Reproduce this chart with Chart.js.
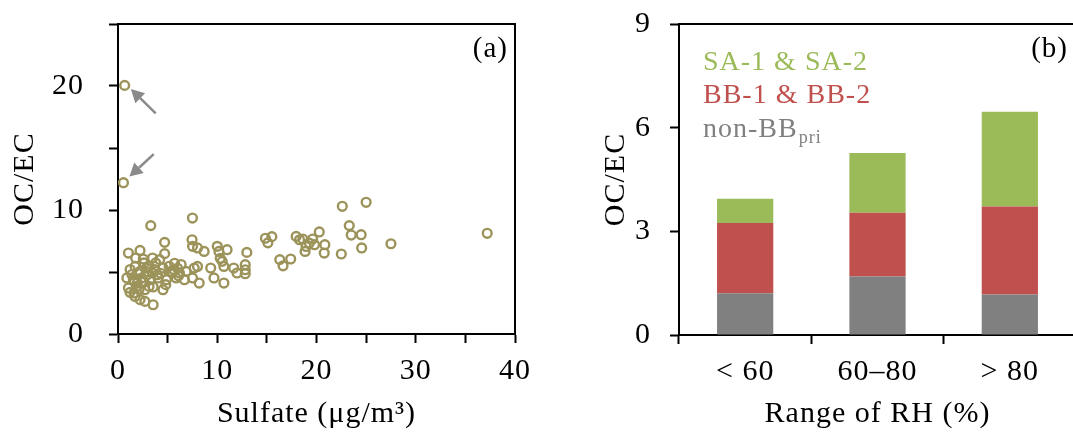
<!DOCTYPE html>
<html>
<head>
<meta charset="utf-8">
<script src="https://cdn.jsdelivr.net/npm/chart.js@4.4.1/dist/chart.umd.min.js"></script>
<style>
    html, body { margin: 0; padding: 0; background: #fff; overflow: hidden; width: 1073px; height: 432px; }
    canvas { position: absolute; top: 0; }
    #chart-a { left: 0; }
    #chart-b { left: 560px; }
</style>
</head>
<body>
<canvas id="chart-a" width="540" height="432"></canvas>
<canvas id="chart-b" width="540" height="432"></canvas>
<script>
// ── Data: panel (a) OC/EC vs sulfate ─────────────────────
const SULFATE = [
    0.67, 0.55,
    1.05, 2.22, 4.70, 4.70, 2.55, 3.48, 4.20, 5.70, 6.36, 1.22, 1.72, 2.22, 2.88, 3.71, 4.53, 5.37,
    6.19, 6.86, 0.89, 1.55, 2.39, 3.21, 4.04, 4.87, 5.86, 6.69, 1.05, 1.89, 2.71, 3.54, 4.53, 1.72,
    2.22, 2.71, 3.54, 2.63, 3.13, 3.80, 5.15, 1.78, 4.81, 5.49, 6.10, 1.62, 1.95, 2.60, 2.90, 3.47,
    3.97, 1.21, 1.62, 2.12, 3.13, 3.30, 2.00, 3.00, 4.30, 5.60, 6.00, 1.40,
    7.50, 7.46, 7.51, 8.01, 8.68, 10.00, 10.17, 10.99, 10.30, 12.98, 7.68, 8.01, 7.51, 8.18, 9.34,
    9.67, 10.50, 10.67, 10.67, 11.66, 11.99, 12.82, 12.82, 12.82,
    14.85, 15.10, 15.50, 16.30, 16.63, 17.40, 17.95, 18.29, 18.62, 18.95, 19.28, 18.85, 19.61, 19.80,
    20.28, 20.84, 20.78, 22.50, 22.60, 23.30, 23.50, 24.50, 24.55, 25.00, 27.50, 37.20,
];
const OC_EC_A = [
    20.05, 12.2,
    6.53, 6.74, 7.39, 6.48, 6.05, 6.13, 6.00, 5.70, 5.60, 5.20, 5.45, 5.05, 5.32, 5.20, 5.32, 5.05,
    4.92, 5.05, 4.52, 4.38, 4.52, 4.38, 4.52, 4.38, 4.52, 4.38, 3.71, 3.84, 3.57, 3.79, 3.57, 3.03,
    2.77, 2.63, 2.36, 5.73, 5.46, 5.73, 5.46, 6.13, 3.98, 4.92, 4.70, 4.25, 4.11, 4.20, 4.75, 4.92,
    4.78, 3.36, 3.31, 3.58, 3.84, 8.74, 4.90, 5.00, 4.90, 5.20, 5.30, 4.80,
    9.35, 7.60, 7.07, 6.94, 6.66, 7.07, 6.66, 6.80, 6.10, 6.58, 5.32, 5.45, 4.52, 4.11, 5.32,
    4.52, 5.86, 5.45, 4.11, 5.32, 4.92, 5.59, 5.18, 4.86,
    7.72, 7.35, 7.85, 6.00, 5.50, 6.05, 7.87, 7.60, 7.66, 7.06, 7.34, 6.66, 7.66, 7.20,
    8.23, 7.20, 6.53, 6.45, 10.30, 8.74, 7.98, 8.01, 6.94, 10.62, 7.28, 8.12,
];
const X_TICKS_A = [0, 10, 20, 30, 40];
const Y_TICKS_A = [0, 10, 20];
// arrows pointing at the two outliers, in data units [x, y]
const ARROW_TAIL = [[3.8, 17.8], [3.6, 14.5]];
const ARROW_TIP = [[1.3, 19.75], [1.15, 12.7]];

// ── Data: panel (b) stacked OC/EC by RH range ────────────
const RH_RANGES = ['< 60', '60–80', '> 80'];
const NON_BB_PRI = [1.21, 1.69, 1.17];
const BB_12 = [2.03, 1.85, 2.55];
const SA_12 = [0.70, 1.73, 2.74];

const FONT = "'Liberation Serif', 'Times New Roman', serif";
const OLIVE = '#9c935a';
const GRAY = '#808080';
const RED = '#c0504d';
const GREEN = '#9bbb59';

Chart.defaults.font.family = FONT;
Chart.defaults.color = '#000';
Chart.defaults.animation = false;

// ── Plugins ──────────────────────────────────────────────

// the original type is a little wider than Liberation Serif
const wideText = {
    id: 'wideText',
    beforeDraw(chart) { chart.ctx.letterSpacing = '1px'; }
};

// top + right frame lines
const framePlugin = {
    id: 'frame',
    afterDraw(chart) {
        const { ctx, chartArea: a } = chart;
        ctx.save();
        ctx.strokeStyle = '#000';
        ctx.lineWidth = 2;
        ctx.beginPath();
        ctx.moveTo(a.left - 1, a.top);
        ctx.lineTo(a.right, a.top);
        ctx.lineTo(a.right, a.bottom);
        ctx.stroke();
        ctx.restore();
    }
};

// "(a)" / "(b)" in the top-right corner
const panelLabel = {
    id: 'panelLabel',
    afterDraw(chart, args, opts) {
        const { ctx, chartArea: a } = chart;
        ctx.save();
        ctx.font = '29px ' + FONT;
        ctx.fillStyle = '#000';
        ctx.textAlign = 'right';
        ctx.textBaseline = 'alphabetic';
        ctx.fillText(opts.text, a.right - opts.dx, a.top + 33);
        ctx.restore();
    }
};

const arrowPlugin = {
    id: 'arrows',
    afterDatasetsDraw(chart) {
        const { ctx, scales: { x, y } } = chart;
        ctx.save();
        ctx.strokeStyle = '#8a8a8a';
        ctx.fillStyle = '#8a8a8a';
        ctx.lineWidth = 2.5;
        ARROW_TAIL.forEach((t, i) => {
            const x0 = x.getPixelForValue(t[0]), y0 = y.getPixelForValue(t[1]);
            const x1 = x.getPixelForValue(ARROW_TIP[i][0]), y1 = y.getPixelForValue(ARROW_TIP[i][1]);
            const ang = Math.atan2(y1 - y0, x1 - x0);
            const head = 13, half = 7;
            const bx = x1 - head * Math.cos(ang), by = y1 - head * Math.sin(ang);
            ctx.beginPath();
            ctx.moveTo(x0, y0);
            ctx.lineTo(bx, by);
            ctx.stroke();
            ctx.beginPath();
            ctx.moveTo(x1, y1);
            ctx.lineTo(bx + half * Math.sin(ang), by - half * Math.cos(ang));
            ctx.lineTo(bx - half * Math.sin(ang), by + half * Math.cos(ang));
            ctx.closePath();
            ctx.fill();
        });
        ctx.restore();
    }
};

// coloured legend text, top series first, "_xxx" drawn as subscript
const legendText = {
    id: 'legendText',
    afterDraw(chart) {
        const { ctx, chartArea: a } = chart;
        const sets = chart.data.datasets.slice().reverse();
        ctx.save();
        ctx.textAlign = 'left';
        ctx.textBaseline = 'alphabetic';
        sets.forEach((ds, i) => {
            const [main, sub] = ds.label.split('_');
            const x = a.left + 24, y = a.top + 46 + i * 33.3;
            ctx.fillStyle = ds.backgroundColor;
            ctx.font = '28px ' + FONT;
            ctx.fillText(main, x, y);
            if (sub) {
                const w = ctx.measureText(main).width;
                ctx.font = '18px ' + FONT;
                ctx.fillText(sub, x + w + 1, y + 6);
            }
        });
        ctx.restore();
    }
};

// shared axis look: black 2px axis line, outward tick marks, no grid
function axisGrid() {
    return { drawOnChartArea: false, drawTicks: true, tickLength: 9, tickWidth: 2, tickColor: '#000' };
}
const AXIS_BORDER = { display: true, color: '#000', width: 2 };

// fixed axis sizes so the plot box sits where the original one does
function fixY(width) {
    return s => { s.width = width; s.paddingTop = 0; s.paddingBottom = 0; };
}
function fixX(height) {
    return s => { s.height = height; };
}

// ── Panel (a): scatter ───────────────────────────────────
new Chart(document.getElementById('chart-a'), {
    type: 'scatter',
    data: {
        datasets: [{
            data: SULFATE.map((s, i) => ({ x: s, y: OC_EC_A[i] })),
            pointStyle: 'circle',
            pointRadius: 4.4,
            pointBorderWidth: 2.4,
            pointBorderColor: OLIVE,
            pointBackgroundColor: 'rgba(0,0,0,0)',
        }]
    },
    options: {
        responsive: false,
        clip: false,
        layout: { padding: { left: 0, top: 24, right: 20, bottom: 0 } },
        plugins: { legend: { display: false }, tooltip: { enabled: false }, panelLabel: { text: '(a)', dx: 7 } },
        scales: {
            x: {
                type: 'linear', min: 0, max: 40,
                grid: axisGrid(), border: AXIS_BORDER,
                ticks: {
                    stepSize: 5, autoSkip: false, maxRotation: 0, padding: 10,
                    font: { size: 30 },
                    callback: v => X_TICKS_A.includes(v) ? String(v) : '',
                },
                title: { display: true, text: 'Sulfate (μg/m³)', font: { size: 30 }, padding: { top: 0, bottom: 0 } },
                afterFit: fixX(98),
            },
            y: {
                type: 'linear', min: 0, max: 25,
                grid: axisGrid(), border: AXIS_BORDER,
                ticks: {
                    stepSize: 5, autoSkip: false, padding: 25,
                    font: { size: 30 },
                    callback: v => Y_TICKS_A.includes(v) ? String(v) : '',
                },
                title: { display: true, text: 'OC/EC', font: { size: 30 }, padding: { top: 7, bottom: 0 } },
                afterFit: fixY(118),
            }
        }
    },
    plugins: [wideText, framePlugin, panelLabel, arrowPlugin]
});

// ── Panel (b): stacked bars ──────────────────────────────
const barStyle = { categoryPercentage: 1, barPercentage: 0.425, borderWidth: 0 };

new Chart(document.getElementById('chart-b'), {
    type: 'bar',
    data: {
        labels: RH_RANGES,
        datasets: [
            { label: 'non-BB_pri', data: NON_BB_PRI, backgroundColor: GRAY, ...barStyle },
            { label: 'BB-1 & BB-2', data: BB_12, backgroundColor: RED, ...barStyle },
            { label: 'SA-1 & SA-2', data: SA_12, backgroundColor: GREEN, ...barStyle },
        ]
    },
    options: {
        responsive: false,
        layout: { padding: { left: 0, top: 24, right: 24, bottom: 0 } },
        plugins: { legend: { display: false }, tooltip: { enabled: false }, panelLabel: { text: '(b)', dx: 8 } },
        scales: {
            x: {
                stacked: true,
                grid: { ...axisGrid(), offset: true }, border: AXIS_BORDER,
                ticks: { maxRotation: 0, padding: 10, font: { size: 30 } },
                title: { display: true, text: 'Range of RH (%)', font: { size: 30 }, padding: { top: 0, bottom: 0 } },
                afterFit: fixX(97),
            },
            y: {
                stacked: true, min: 0, max: 9,
                grid: axisGrid(), border: AXIS_BORDER,
                ticks: { stepSize: 3, padding: 19, font: { size: 30 } },
                title: { display: true, text: 'OC/EC', font: { size: 30 }, padding: { top: 38, bottom: 0 } },
                afterFit: fixY(119),
            }
        }
    },
    plugins: [wideText, framePlugin, panelLabel, legendText]
});
</script>
</body>
</html>
